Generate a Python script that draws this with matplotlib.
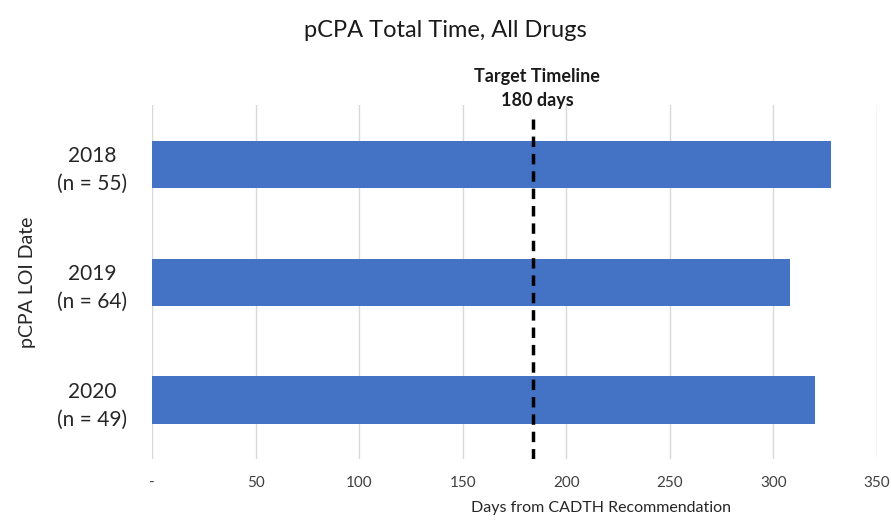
import matplotlib.pyplot as plt
from matplotlib.ticker import FixedLocator, FixedFormatter

categories = ["2018\n(n = 55)", "2019\n(n = 64)", "2020\n(n = 49)"]
values = [328, 308, 320]
target_line = 184
xticks = [0, 50, 100, 150, 200, 250, 300, 350]
xticklabels = ["-", "50", "100", "150", "200", "250", "300", "350"]

plt.rcParams['font.family'] = ['Lato', 'DejaVu Sans']

fig = plt.figure(figsize=(8.91, 5.21), dpi=100)
ax = fig.add_axes([0.1706, 0.119, 0.8134, 0.679])

y = list(range(len(categories)))
ax.barh(y, values, height=0.4, color="#4472C4", zorder=3)
ax.set_ylim(2.5, -0.5)
ax.set_xlim(0, 350)
ax.xaxis.set_major_locator(FixedLocator(xticks))
ax.xaxis.set_major_formatter(FixedFormatter(xticklabels))
ax.set_yticks(y)
ax.set_yticklabels(categories, fontsize=15, color="#262626", linespacing=1.5,
                   ha="center")
ax.tick_params(axis='x', labelsize=11, colors="#404040", length=0, pad=12)
ax.tick_params(axis='y', length=0, pad=43)

ax.grid(axis='x', color="#d9d9d9", linewidth=1, zorder=0)
for s in ax.spines.values():
    s.set_visible(False)

ax.axvline(target_line, ymin=0.0, ymax=0.96, color="black", linestyle=(0, (3, 2)),
           linewidth=2.5, zorder=4)
ax.text(target_line + 2, -0.47, "Target Timeline\n180 days", ha="center", va="bottom",
        fontsize=13, fontweight="bold", color="#1a1a1a", linespacing=1.45)

ax.set_xlabel("Days from CADTH Recommendation", fontsize=11.5, color="#262626")
ax.xaxis.set_label_coords(0.62, -0.12)
ax.set_ylabel("pCPA LOI Date", fontsize=14, color="#262626")
ax.yaxis.set_label_coords(-0.16, 0.5)

fig.suptitle("pCPA Total Time, All Drugs", fontsize=17, color="#1a1a1a", y=0.962)

fig.savefig("out.png", dpi=100)
